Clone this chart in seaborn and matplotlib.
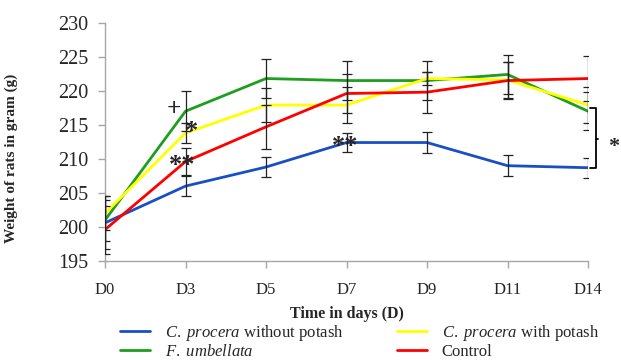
import matplotlib
matplotlib.use("Agg")
import matplotlib.pyplot as plt
import seaborn as sns
import pandas as pd
import numpy as np

days = ["D0", "D3", "D5", "D7", "D9", "D11", "D14"]
series_names = [r"$\it{C.\ procera}$ without potash",
                r"$\it{F.\ umbellata}$",
                r"$\it{C.\ procera}$ with potash",
                "Control"]
blue_vals = [200.6, 206.0, 208.8, 212.4, 212.4, 209.0, 208.7]
green_vals = [201.0, 217.0, 221.8, 221.5, 221.5, 222.4, 217.0]
yellow_vals = [202.0, 213.8, 217.9, 217.9, 221.8, 221.6, 217.9]
red_vals = [199.6, 209.6, 214.7, 219.6, 219.8, 221.5, 221.8]
blue_err = [3.9, 1.5, 1.5, 1.4, 1.5, 1.5, 1.5]
green_err = [3.0, 2.9, 2.9, 2.9, 2.9, 2.8, 2.8]
yellow_err = [2.5, 1.5, 2.5, 2.7, 1.0, 2.6, 2.6]
red_err = [3.5, 2.0, 3.2, 2.9, 3.0, 2.7, 3.3]
colors = ["#1a4fc4", "#1e9e1e", "#ffff00", "#ff0000"]
y_ticks = [195, 200, 205, 210, 215, 220, 225, 230]

all_vals = [blue_vals, green_vals, yellow_vals, red_vals]
all_errs = [blue_err, green_err, yellow_err, red_err]

rows = []
for name, vals in zip(series_names, all_vals):
    for i, (d, v) in enumerate(zip(days, vals)):
        rows.append({"pos": i, "day": d, "weight": v, "group": name})
df = pd.DataFrame(rows)

sns.set_style("white")
plt.rcParams["font.family"] = ["Liberation Serif", "DejaVu Serif"]
plt.rcParams["mathtext.fontset"] = "custom"
plt.rcParams["mathtext.it"] = "Liberation Serif:italic"
plt.rcParams["mathtext.rm"] = "Liberation Serif"

fig = plt.figure(figsize=(6.21, 3.60), dpi=100)
ax = fig.add_axes([105/621, 1-261/360, 483/621, (261-22.7)/360])

sns.lineplot(data=df, x="pos", y="weight", hue="group", hue_order=series_names,
             palette=colors, linewidth=2.0, ax=ax, legend=True, errorbar=None)

pos = np.arange(len(days))
for vals, errs in zip(all_vals, all_errs):
    ax.errorbar(pos, vals, yerr=errs, fmt="none", ecolor="#222222",
                elinewidth=0.9, capsize=3.3, capthick=0.9, zorder=5)

ax.set_xlim(0, 6)
ax.set_ylim(195, 230)
ax.set_xticks(pos)
ax.set_xticklabels(days, fontsize=12)
ax.set_yticks(y_ticks)
ax.set_yticklabels([str(t) for t in y_ticks], fontsize=14.5)
for s in ["top", "right"]:
    ax.spines[s].set_visible(False)
for s in ["left", "bottom"]:
    ax.spines[s].set_color("#a6a6a6")
    ax.spines[s].set_linewidth(1.0)
ax.tick_params(axis="y", direction="out", length=5, width=1, color="#a6a6a6", pad=7, left=True)
ax.tick_params(axis="x", direction="out", length=5, width=1, color="#a6a6a6", pad=10, bottom=True)

ax.set_xlabel("Time in days (D)", fontsize=11.5, fontweight="bold")
ax.set_ylabel("Weight of rats in gram (g)", fontsize=11, fontweight="bold")
ax.xaxis.set_label_coords(0.5, -0.19)
ax.yaxis.set_label_coords(-0.18, 0.43)

# annotations
ax.text(0.849, 217.2, "+", fontsize=18, fontweight="bold", ha="center", va="center")
ax.text(1.069, 214.0, "*", fontsize=19, fontweight="bold", ha="center", va="center")
ax.text(0.961, 209.0, "**", fontsize=19, fontweight="bold", ha="center", va="center")
ax.text(2.983, 211.8, "**", fontsize=19, fontweight="bold", ha="center", va="center")
# brace
ax.plot([6.03, 6.096, 6.096, 6.03], [217.4, 217.4, 208.6, 208.6], color="black",
        lw=1.3, clip_on=False)
ax.plot([6.096, 6.13], [212.9, 212.9], color="black", lw=1.3, clip_on=False)
ax.text(6.32, 211.8, "*", fontsize=16, fontweight="bold", ha="center", va="center", clip_on=False)

ax.get_legend().remove()
handles, labels = ax.get_legend_handles_labels()
fig.legend(handles, labels, ncol=2, frameon=False, fontsize=12,
           loc="upper left", bbox_to_anchor=(120/621, 1-323/360),
           borderaxespad=0, borderpad=0, handlelength=1.8, handletextpad=0.9,
           columnspacing=3.2, labelspacing=0.05)

fig.savefig("out.png", dpi=100)
